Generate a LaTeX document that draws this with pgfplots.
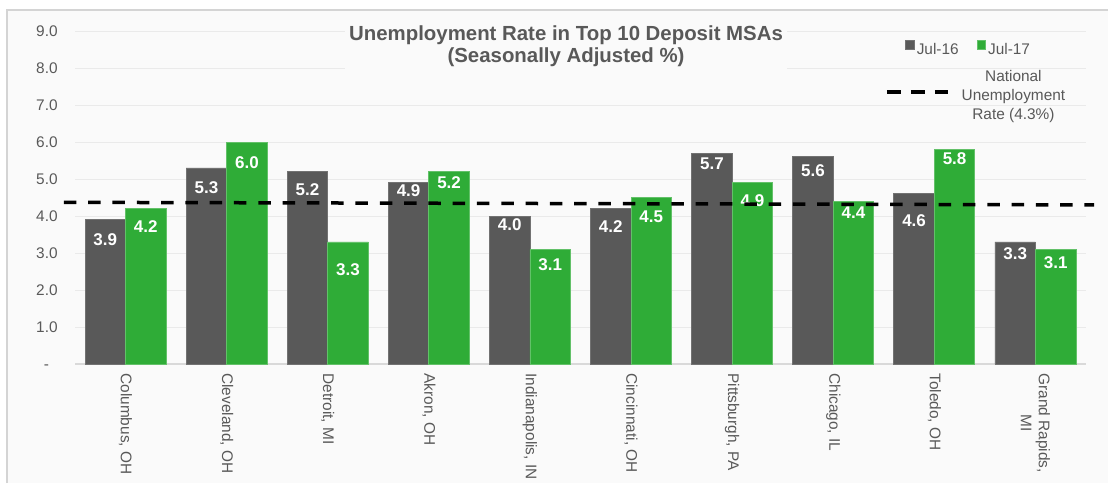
\documentclass[border=0pt]{standalone}
\usepackage{fontspec}
\setmainfont{Liberation Sans}
\usepackage{pgfplots}
\usepackage{pgfplotstable}
\pgfplotsset{compat=1.18}

\definecolor{bargray}{HTML}{595959}
\definecolor{bargreen}{HTML}{2FAC37}
\definecolor{txtgray}{HTML}{595959}
\definecolor{gridgray}{HTML}{EAEAEA}
\definecolor{basegray}{HTML}{D9D9D9}
\definecolor{bordergray}{HTML}{D4D4D4}
\definecolor{bg}{HTML}{FAFAFA}

% values, and how far (px) each label sits below its bar top
\pgfplotstableread{
x jul16 off16 jul17 off17
0 3.9 20 4.2 18
1 5.3 20 6.0 21
2 5.2 18 3.3 28
3 4.9  8 5.2 11
4 4.0  9 3.1 15
5 4.2 18 4.5 19
6 5.7 11 4.9 18
7 5.6 14 4.4 11
8 4.6 27 5.8  9
9 3.3 12 3.1 13
}\rates

\pgfplotstableread{
x y
-0.61 4.37
9.58 4.30
}\national

\pgfplotsset{
  chartframe/.style={
    at={(37.5pt,59.5pt)}, anchor=south west,
    scale only axis, width=505.5pt, height=166.5pt,
    xmin=-0.5, xmax=9.5, ymin=0, ymax=9,
  },
}

\begin{document}
\begin{tikzpicture}
  \useasboundingbox (0pt,0pt) rectangle (554pt,241.5pt);
  \fill[bg] (3.5pt,0pt) rectangle (554pt,236.5pt);
  \draw[bordergray, line width=1pt] (3.5pt,0pt) -- (3.5pt,236.5pt) -- (554pt,236.5pt);

  \begin{axis}[
      chartframe,
      ybar=0pt, bar width=20.25pt,
      axis lines*=left,
      x axis line style={draw=basegray, line width=1pt, -},
      y axis line style={draw=none},
      major tick length=0pt,
      ymajorgrids, grid style={gridgray, line width=0.5pt},
      ytick={0,...,9},
      yticklabels={-\phantom{0},1.0,2.0,3.0,4.0,5.0,6.0,7.0,8.0,9.0},
      xtick={0,...,9},
      xticklabels={{Columbus, OH},{Cleveland, OH},{Detroit, MI},{Akron, OH},
        {Indianapolis, IN},{Cincinnati, OH},{Pittsburgh, PA},{Chicago, IL},
        {Toledo, OH},{Grand Rapids,\\MI}},
      ticklabel style={font=\fontsize{7.7}{9}\selectfont, text=txtgray},
      yticklabel style={anchor=east, inner sep=0pt, xshift=-8.5pt},
      xticklabel style={yshift=-4.5pt, rotate=-90, anchor=west, align=center, inner sep=0pt},
      /pgf/number format/.cd, fixed, fixed zerofill, precision=1, assume math mode=true,
      /pgfplots/.cd,
      every axis title shift=0pt,
      title={Unemployment Rate in Top 10 Deposit MSAs\\(Seasonally Adjusted \%)},
      title style={at={(0.4857,0.955)}, anchor=center, align=center,
        font=\bfseries\fontsize{10.2}{11}\selectfont, text=txtgray, fill=bg, inner sep=2pt},
      legend style={draw=none, fill=none, at={(0.815,0.943)}, anchor=west,
        legend columns=2, font=\fontsize{7.7}{9}\selectfont, text=txtgray,
        /tikz/every even column/.append style={column sep=8pt},
        nodes={inner sep=1pt}},
      legend image code/.code={\fill[#1] (0pt,0.5pt) rectangle (4.3pt,4.8pt);},
      nodes near coords,
      every node near coord/.append style={font=\bfseries\fontsize{8.5}{10}\selectfont,
        text=white, anchor=center},
    ]
    \addplot[fill=bargray, draw=bargray!85!white, line width=0.4pt,
      visualization depends on={\thisrow{off16}\as\off},
      nodes near coords style={yshift={-0.5pt*\off}}]
      table[x=x, y=jul16]{\rates};
    \addplot[fill=bargreen, draw=bargreen!75!white, line width=0.4pt,
      visualization depends on={\thisrow{off17}\as\off},
      nodes near coords style={yshift={-0.5pt*\off}}]
      table[x=x, y=jul17]{\rates};
    \legend{Jul-16, Jul-17}
  \end{axis}

  \begin{axis}[
      chartframe,
      hide axis, clip=false,
      legend style={draw=none, fill=none, at={(0.795,0.835)}, anchor=west,
        font=\fontsize{7.7}{9.5}\selectfont, text=txtgray, nodes={inner sep=1pt}},
      legend image code/.code={\draw[black, line width=1.75pt, dash pattern=on 7pt off 5pt]
        (0pt,-3pt) -- (30.5pt,-3pt); \path (35.5pt,-3pt);},
    ]
    \addplot[black, line width=1.75pt, dash pattern=on 6.25pt off 5.9pt] table[x=x, y=y]{\national};
    \addlegendentry{\begin{tabular}{@{}c@{}}National\\Unemployment\\Rate (4.3\%)\end{tabular}}
  \end{axis}
\end{tikzpicture}
\end{document}
